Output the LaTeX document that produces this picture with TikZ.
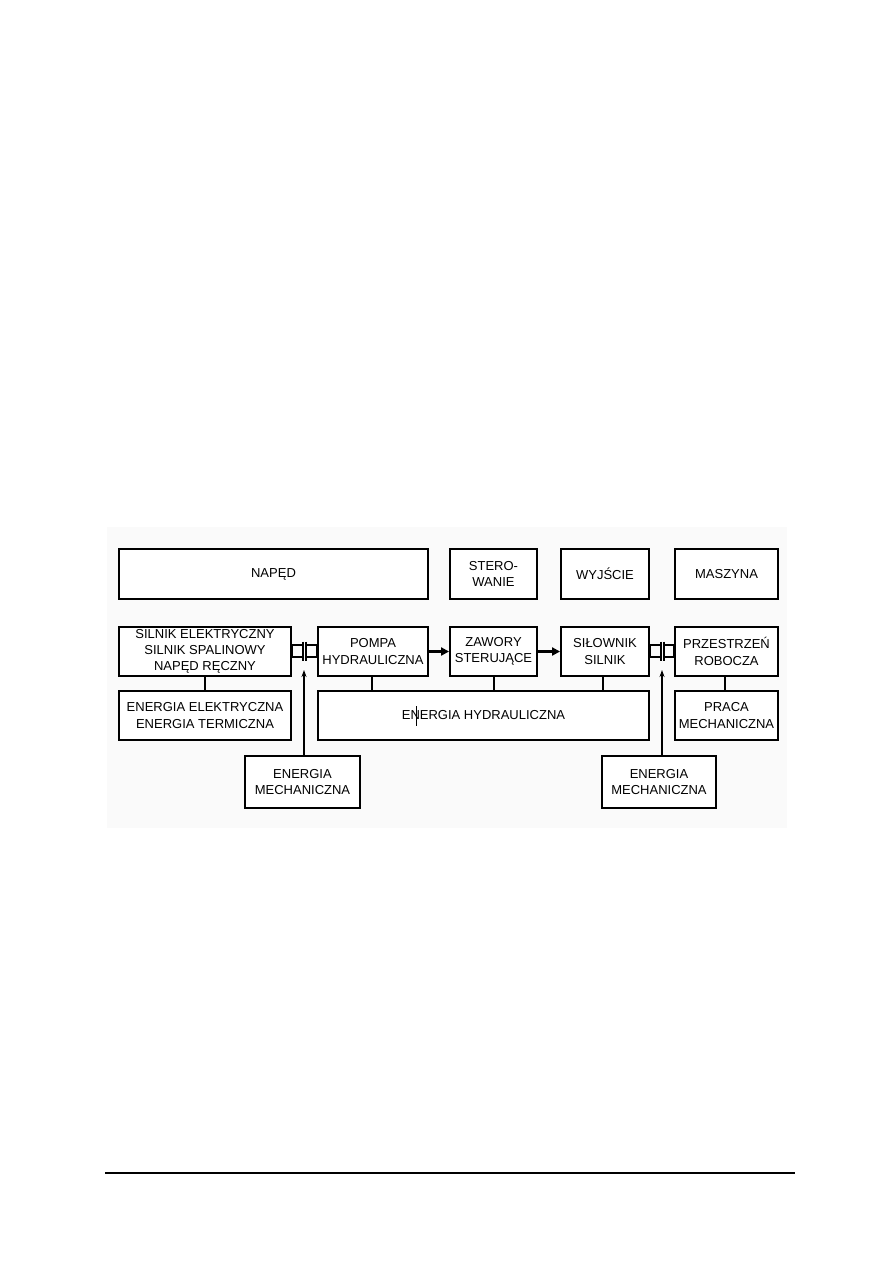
\documentclass[tikz,border=0pt]{standalone}
\usepackage{fontspec}
\setmainfont{Liberation Sans}
\usetikzlibrary{arrows.meta,calc}
\begin{document}
\begin{tikzpicture}[x=1pt,y=-1pt,
  box/.style={draw=black,fill=white,line width=1.9pt,rectangle,align=center,inner sep=0pt,
    font=\fontsize{13}{16.3}\selectfont},
  link/.style={draw=black,line width=1.8pt},
  thinarr/.style={draw=black,line width=1.5pt,-{Stealth[length=7pt,width=5pt]}},
  thickarr/.style={draw=black,line width=3pt,-{Triangle[length=8pt,width=8pt]}},
  clutch/.style={draw=black,line width=1.9pt}]
\useasboundingbox (0,0) rectangle (893,1263);
\fill[black!2] (107,527) rectangle (787,828);
% top row
\node[box,minimum width=309,minimum height=50] (naped) at (273.5,574) {NAPĘD};
\node[box,minimum width=87,minimum height=50] (ster) at (493.5,574) {STERO-\\WANIE};
\node[box,minimum width=88,minimum height=50] (wyj) at (605,574) {WYJŚCIE};
\node[box,minimum width=103,minimum height=50] (masz) at (726.5,574) {\raisebox{-3pt}{MASZYNA}};
% second row
\node[box,minimum width=172,minimum height=49] (silnik) at (205,651.5) {SILNIK ELEKTRYCZNY\\SILNIK SPALINOWY\\NAPĘD RĘCZNY};
\node[box,minimum width=110,minimum height=49] (pompa) at (373,651.5) {POMPA\\HYDRAULICZNA};
\node[box,minimum width=87,minimum height=49] (zaw) at (493.5,651.5) {ZAWORY\\STERUJĄCE};
\node[box,minimum width=88,minimum height=49] (silow) at (605,651.5) {SIŁOWNIK\\SILNIK};
\node[box,minimum width=103,minimum height=49] (przes) at (726.5,651.5) {PRZESTRZEŃ\\ROBOCZA};
% third row
\node[box,minimum width=172,minimum height=49] (eel) at (205,715.5) {ENERGIA ELEKTRYCZNA\\ENERGIA TERMICZNA};
\node[box,minimum width=331,minimum height=49] (ehyd) at (483.5,715.5) {ENERGIA HYDRAULICZNA};
\node[box,minimum width=103,minimum height=49] (praca) at (726.5,715.5) {PRACA\\MECHANICZNA};
% fourth row
\node[box,minimum width=115,minimum height=52] (emL) at (302.5,782) {ENERGIA\\MECHANICZNA};
\node[box,minimum width=114,minimum height=52] (emR) at (659,782) {ENERGIA\\MECHANICZNA};
% text cursor mark
\draw[line width=0.8pt] (416,706) -- (416,726);
% vertical links
\draw[link] (silnik.south) -- (eel.north);
\coordinate (p1) at (372,676);
\draw[link] (p1) -- (p1 |- ehyd.north);
\coordinate (p2) at (494,676);
\draw[link] (p2) -- (p2 |- ehyd.north);
\coordinate (p3) at (603,676);
\draw[link] (p3) -- (p3 |- ehyd.north);
\coordinate (p4) at (725,676);
\draw[link] (p4) -- (p4 |- praca.north);
% thick arrows
\draw[thickarr] (pompa.east) -- (zaw.west);
\draw[thickarr] (zaw.east) -- (silow.west);
% couplings
\draw[clutch] (silnik.east |- 0,645) rectangle (302.7,657);
\draw[clutch] (305.7,645) rectangle (pompa.west |- 0,657);
\draw[clutch] (302.7,641.5) -- (302.7,660.5);
\draw[clutch] (305.7,641.5) -- (305.7,660.5);
\draw[clutch] (silow.east |- 0,645) rectangle (661.2,657);
\draw[clutch] (664.2,645) rectangle (przes.west |- 0,657);
\draw[clutch] (661.2,641.5) -- (661.2,660.5);
\draw[clutch] (664.2,641.5) -- (664.2,660.5);
% energy input arrows
\coordinate (aL) at (304,670);
\coordinate (aR) at (662,670);
\draw[thinarr] (emL.north -| aL) -- (aL);
\draw[thinarr] (emR.north -| aR) -- (aR);
% footer rule
\draw[line width=1.2pt] (105,1173) -- (795,1173);
\end{tikzpicture}
\end{document}
